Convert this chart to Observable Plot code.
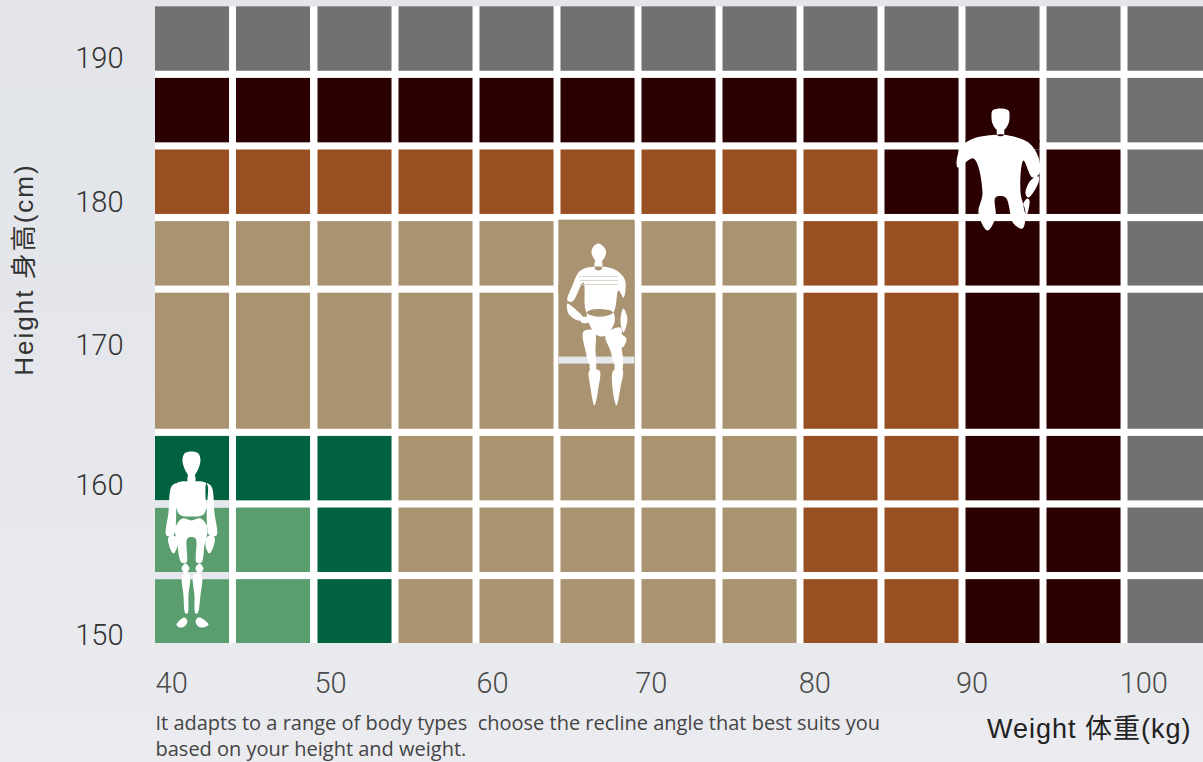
<!DOCTYPE html>
<html><head><meta charset="utf-8">
<script src="https://cdn.jsdelivr.net/npm/d3@7"></script>
<script src="https://cdn.jsdelivr.net/npm/@observablehq/plot@0.6"></script>
<style>
html,body{margin:0;padding:0;width:1203px;height:762px;overflow:hidden;
background:linear-gradient(180deg,#e4e5ea 0%,#e2e5e9 20%,#e6e7ec 55%,#e8eaee 85%,#ebebf0 100%);}
svg{display:block}
.axis-title-y{letter-spacing:2px}
.axis-title-x{letter-spacing:1px}
</style></head><body>
<script>
// Column floors (kg) and row floors (cm)
const weightFloors=[39,44,49.03,54.03,59.03,64.03,69.03,74.03,79.03,84.03,89.03,94.03,99.03];
const cellWidth=4.57, lastColumnEnd=103.69;
const heightFloors=[149,153.96,158.96,163.96,173.96,178.96,183.96,188.96];
const heightSpans=[4.46,4.5,4.5,9.5,4.5,4.5,4.5,4.5];

const toneNames=["grey","dark","brown","tan","green","sage","gap"];
const toneColors=["#717171","#2b0000","#985022","#aa9371","#00623f","#5a9d6f","#e6e6ed"];
const G="grey",D="dark",B="brown",T="tan",N="green",S="sage";
const row150=[S,S,N,T,T,T,T,T,B,B,D,D,G];
const row155=[S,S,N,T,T,T,T,T,B,B,D,D,G];
const row160=[N,N,N,T,T,T,T,T,B,B,D,D,G];
const row170=[T,T,T,T,T,T,T,T,B,B,D,D,G];
const row175=[T,T,T,T,T,T,T,T,B,B,D,D,G];
const row180=[B,B,B,B,B,B,B,B,B,D,D,D,G];
const row185=[D,D,D,D,D,D,D,D,D,D,D,G,G];
const row190=[G,G,G,G,G,G,G,G,G,G,G,G,G];
const tonesByRow=[row150,row155,row160,row170,row175,row180,row185,row190];

const xTickPlaces=[40,49.8,59.8,69.6,79.7,89.4,100];
const yTickPlaces=[149.55,160,169.8,179.8,189.8];

const cells=[];
tonesByRow.forEach((tones,r)=>tones.forEach((tone,c)=>cells.push({
  tone,x1:weightFloors[c],x2:c===12?lastColumnEnd:weightFloors[c]+cellWidth,
  y1:heightFloors[r],y2:heightFloors[r]+heightSpans[r]})));

// Cells that sit behind the three figures
const patchCells=[
  {tone:"tan",x1:63.9,x2:68.6,y1:173.46,y2:178.56},
  {tone:"tan",x1:63.9,x2:68.6,y1:168.5,y2:174},
  {tone:"gap",x1:63.9,x2:68.6,y1:168.5,y2:169},
  {tone:"tan",x1:63.9,x2:68.6,y1:163.96,y2:168.5},
  {tone:"gap",x1:39,x2:43.57,y1:153.46,y2:153.96},
  {tone:"gap",x1:39,x2:43.57,y1:158.46,y2:158.96},
  {tone:"dark",x1:89.03,x2:93.6,y1:183.46,y2:184.1},
];
const gapFrame=[{x1:39,x2:lastColumnEnd,y1:149,y2:193.46}];

// Figure outlines, in pixels from the figure's anchor
const figureStanding=[
 [[0,-89],[7,-87],[9,-80],[7,-72],[3,-65],[0,-63],[-3,-65],[-7,-72],[-9,-80],[-7,-87]],
 [[-3,-66],[3,-66],[3,-56],[-3,-56]],
 [[-15,-57],[0,-59],[15,-57],[16,-42],[12,-26],[0,-24],[-12,-26],[-16,-42]],
 [[-20,-54],[-15,-57],[-14,-48],[-15,-34],[-18,-5],[-25,-5],[-23,-28]],
 [[20,-54],[15,-57],[14,-48],[15,-34],[18,-5],[25,-5],[23,-28]],
 [[-23,-3],[-16,-4],[-14,5],[-18,13],[-22,6]],
 [[23,-3],[16,-4],[14,5],[18,13],[22,6]],
 [[-16,-13],[-9,-22],[0,-20],[9,-22],[16,-13],[13,5],[10,22],[5,22],[4,-2],[-4,-2],[-5,22],[-10,22],[-14,5]],
 [[-6,23],[-2,28],[-6,33],[-10,28]],
 [[8,23],[12,28],[8,33],[4,28]],
 [[-9,34],[-2,34],[-3,55],[-4,73],[-6,73],[-8,55]],
 [[2,34],[10,34],[9,55],[6,73],[4,73],[3,55]],
 [[-15,84],[-7,77],[-4,81],[-7,86],[-12,87]],
 [[4,81],[7,77],[17,84],[12,87],[7,86]],
];
const figureSeated=[
 [[1,-82],[6,-79],[8.7,-73],[5,-65],[1.3,-63],[-2,-65],[-6,-73],[-4,-79]],
 [[-2,-65],[4,-65],[4,-56],[-2,-56]],
 [[-17,-55],[-25,-40],[-30,-25],[-25,-24],[-14,-43],[-10,-12],[15,-12],[21,-35],[26,-28],[28,-44],[23,-52],[15,-57],[1,-59]],
 [[-10,-14],[15,-14],[17,-3],[8,10],[0,10],[-6,3]],
 [[-30,-22],[-24,-18],[-14,-7],[-19,-5],[-29,-12]],
 [[-17,-8],[-8,-8],[-9,-3],[-16,-3]],
 [[26,-17],[30,-7],[26,7],[23,-5]],
 [[23,9],[29,13],[25,22],[22,17]],
 [[-14,6],[-3,5],[-2,25],[-2,40],[-7,40],[-12,25]],
 [[-7,38],[-2,38],[-2,46],[-7,46]],
 [[8,9],[23,2],[24,20],[25,40],[18,40],[13,25]],
 [[18,38],[25,38],[24,46],[18,46]],
 [[-8,45],[2,45],[1,62],[-3,80],[-7,62]],
 [[16,45],[25,44],[23,62],[19,80],[15,62]],
];
const figureTall=[
 [[0,-62],[8,-60],[9,-53],[8,-47],[3,-40],[-3,-40],[-8,-47],[-9,-53],[-8,-60]],
 [[-3,-42],[3,-42],[3,-35],[-3,-35]],
 [[-3,-36],[-27,-32],[-40,-23],[-43,-3],[-27,-12],[-18,22],[-22,43],[-13,60],[-5,47],[-5,27],[5,27],[13,53],[22,58],[25,43],[20,22],[23,-10],[32,7],[39,3],[38,-13],[28,-28],[3,-36]],
 [[38,6],[30,10],[25,23],[28,27],[38,12]],
 [[27,28],[29,30],[26,45],[23,33]],
];
const figureSymbol=shapes=>({draw(ctx){
  const line=d3.line().curve(d3.curveCatmullRomClosed.alpha(0.5)).context(ctx);
  shapes.forEach(s=>line(s));
}});
const figureAnchors=[
 {w:41.22,h:156.2,shape:figureStanding},
 {w:66.28,h:171.2,shape:figureSeated},
 {w:91.16,h:182.03,shape:figureTall},
];
const figureMarks=figureAnchors.map(a=>Plot.dot([a],{x:"w",y:"h",r:1,fill:"white",stroke:"none",symbol:figureSymbol(a.shape)}));
const chestStripes=[{h:174.63},{h:174.35},{h:174.07}];

const numeralFont={fontFamily:"Roboto,'Noto Sans',sans-serif",fontWeight:300};
const captionLines=["It adapts to a range of body types  choose the recline angle that best suits you","based on your height and weight."];
const labelFont="'Liberation Sans','Noto Sans CJK SC',sans-serif";

const chart=Plot.plot({
  width:1203,height:762,
  marginLeft:155,marginRight:0,marginTop:0,marginBottom:119,
  x:{domain:[39,lastColumnEnd],label:null},
  y:{domain:[149,193.9],label:null},
  color:{domain:toneNames,range:toneColors},
  style:{background:"transparent",fontFamily:labelFont},
  marks:[
    Plot.rect(gapFrame,{x1:"x1",x2:"x2",y1:"y1",y2:"y2",fill:"white"}),
    Plot.rect(cells,{x1:"x1",x2:"x2",y1:"y1",y2:"y2",fill:"tone"}),
    Plot.rect(patchCells,{x1:"x1",x2:"x2",y1:"y1",y2:"y2",fill:"tone"}),
    ...figureMarks,
    Plot.ruleY(chestStripes,{y:"h",x1:65.2,x2:67.6,stroke:"#ddd6cc",strokeWidth:1}),
    Plot.axisX({ticks:xTickPlaces,tickFormat:d=>String(Math.round(d/10)*10),tickSize:0,tickPadding:29,label:null,fontSize:29,fill:"#4a4a4a",...numeralFont}),
    Plot.axisY({ticks:yTickPlaces,tickFormat:d=>String(Math.round(d/10)*10),tickSize:0,tickPadding:32,label:null,fontSize:29,fill:"#333",...numeralFont}),
    Plot.text(["Height 身高(cm)"],{className:"axis-title-y",frameAnchor:"top-left",dx:-131,dy:269,rotate:-90,fontSize:26,fill:"#333",textAnchor:"middle",lineAnchor:"middle"}),
    Plot.text(["Weight 体重(kg)"],{className:"axis-title-x",frameAnchor:"bottom-right",dx:-12,dy:86,fontSize:27,fill:"#222",textAnchor:"end",lineAnchor:"middle"}),
    Plot.text([captionLines[0]],{frameAnchor:"bottom-left",dy:80,fontSize:20,fill:"#444",textAnchor:"start",lineAnchor:"middle",fontFamily:"'Open Sans','Noto Sans',sans-serif"}),
    Plot.text([captionLines[1]],{frameAnchor:"bottom-left",dy:106,fontSize:20,fill:"#444",textAnchor:"start",lineAnchor:"middle",fontFamily:"'Open Sans','Noto Sans',sans-serif"}),
  ]
});
document.body.appendChild(chart);
</script>
</body></html>
